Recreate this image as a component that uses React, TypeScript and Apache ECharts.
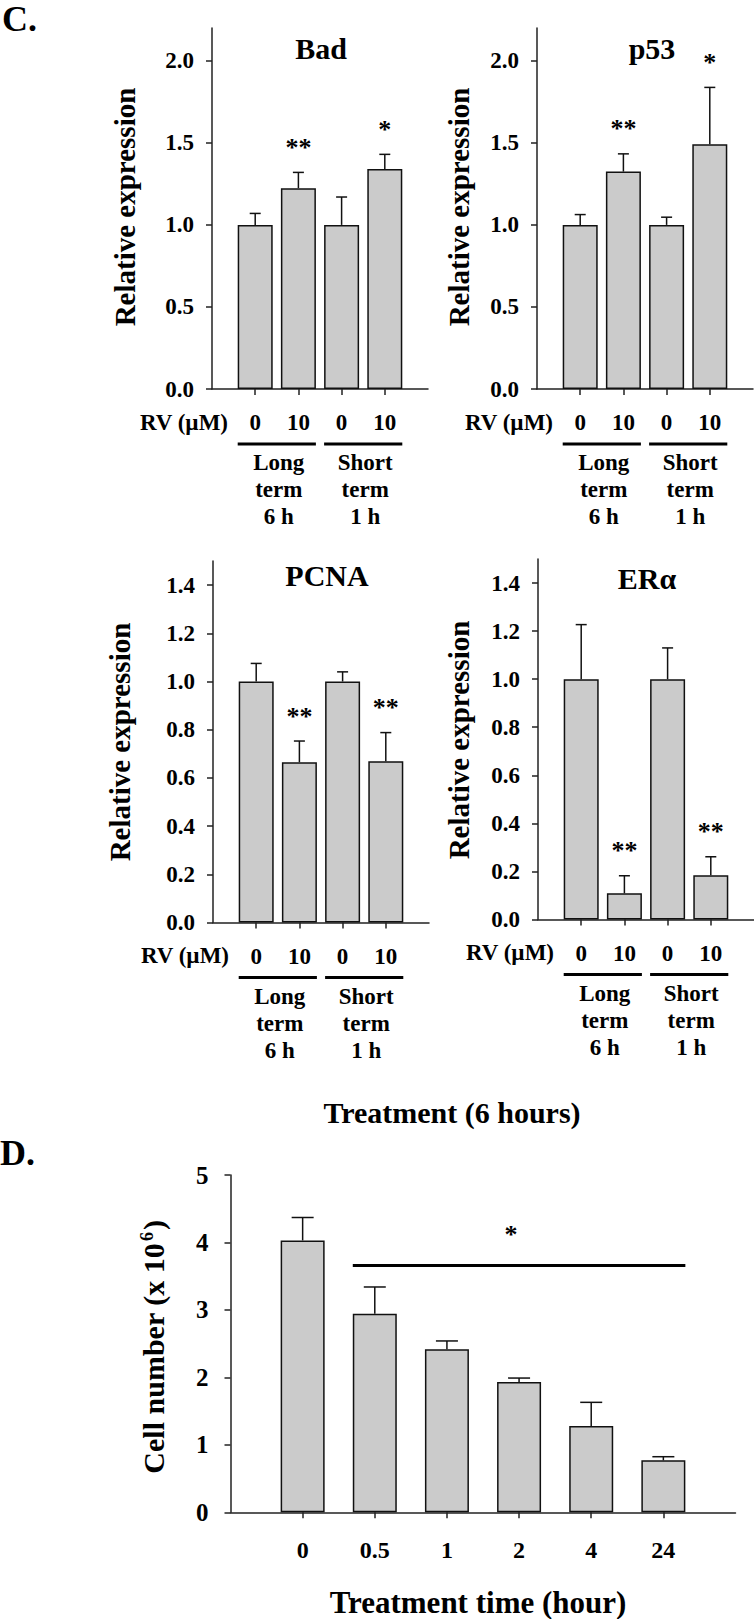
import React, { useEffect, useRef } from 'react';
import * as echarts from 'echarts';

const rvDoses = ['0', '10', '0', '10'];
const groupLabels = ['Long\nterm\n6 h', 'Short\nterm\n1 h'];
const badMean = [1.0, 1.224, 1.0, 1.34];
const badErr = [0.07, 0.096, 0.17, 0.09];
const badSig = ['', '**', '', '*'];
const p53Mean = [1.0, 1.325, 1.0, 1.492];
const p53Err = [0.063, 0.108, 0.047, 0.346];
const p53Sig = ['', '**', '', '*'];
const pcnaMean = [1.0, 0.665, 1.0, 0.669];
const pcnaErr = [0.075, 0.088, 0.04, 0.119];
const pcnaSig = ['', '**', '', '**'];
const eraMean = [1.0, 0.109, 1.0, 0.184];
const eraErr = [0.227, 0.073, 0.13, 0.077];
const eraSig = ['', '**', '', '**'];
const topTicks = [0, 0.5, 1.0, 1.5, 2.0];
const midTicks = [0, 0.2, 0.4, 0.6, 0.8, 1.0, 1.2, 1.4];
const timeLabels = ['0', '0.5', '1', '2', '4', '24'];
const cellMean = [4.03, 2.945, 2.417, 1.932, 1.28, 0.77];
const cellErr = [0.34, 0.395, 0.123, 0.058, 0.35, 0.054];
const cellTicks = [0, 1, 2, 3, 4, 5];
const cellSigLevel = 3.66;
const cellSigBars = [2, 6];

const SERIF = 'Liberation Serif';
const AXIS = { color: '#222', width: 1.5 };

function buildOption() {
  const grid: any[] = [];
  const xAxis: any[] = [];
  const yAxis: any[] = [];
  const series: any[] = [];

  const addPanel = (
    idx: number,
    g: any,
    mean: number[],
    err: number[],
    sig: string[],
    ticks: number[],
    yMax: number,
    labels: string[],
    cfg: any
  ) => {
    const pos = labels.map((_, i) => i + 1);
    grid.push(g);
    xAxis.push({
      type: 'value',
      gridIndex: idx,
      min: 0,
      max: labels.length + 1,
      axisLine: { show: true, onZero: false, lineStyle: AXIS },
      axisTick: { show: true, customValues: pos, length: 6, lineStyle: AXIS },
      axisLabel: {
        customValues: pos,
        formatter: (v: number) => labels[Math.round(v) - 1] ?? '',
        fontFamily: SERIF,
        fontWeight: 'bold',
        fontSize: cfg.xFont,
        color: '#000',
        margin: cfg.xMargin,
      },
      splitLine: { show: false },
    });
    yAxis.push({
      type: 'value',
      gridIndex: idx,
      min: 0,
      max: yMax,
      axisLine: { show: true, lineStyle: AXIS },
      axisTick: { show: true, customValues: ticks, length: 6, lineStyle: AXIS },
      axisLabel: {
        customValues: ticks,
        formatter: (v: number) => v.toFixed(cfg.decimals),
        fontFamily: SERIF,
        fontWeight: 'bold',
        fontSize: cfg.yFont,
        color: '#000',
        margin: cfg.yMargin,
      },
      splitLine: { show: false },
    });
    series.push({
      type: 'bar',
      xAxisIndex: idx,
      yAxisIndex: idx,
      barWidth: cfg.barWidth,
      silent: true,
      data: mean.map((m, i) => [i + 1, m]),
      itemStyle: { color: '#cbcbcb', borderColor: '#111', borderWidth: 1.5 },
    });
    series.push({
      type: 'custom',
      xAxisIndex: idx,
      yAxisIndex: idx,
      clip: false,
      silent: true,
      data: mean.map((m, i) => [i + 1, m, err[i]]),
      renderItem: (params: any, api: any) => {
        const x = api.value(0);
        const m = api.value(1);
        const e = api.value(2);
        const base = api.coord([x, m]);
        const top = api.coord([x, m + e]);
        const st = { stroke: '#111', lineWidth: 1.5 };
        const children: any[] = [
          { type: 'line', shape: { x1: base[0], y1: base[1], x2: top[0], y2: top[1] }, style: st },
          { type: 'line', shape: { x1: top[0] - cfg.cap, y1: top[1], x2: top[0] + cfg.cap, y2: top[1] }, style: st },
        ];
        const s = sig[params.dataIndex];
        if (s) {
          children.push({
            type: 'text',
            x: top[0],
            y: top[1] - 25,
            style: {
              text: s,
              fill: '#000',
              fontFamily: SERIF,
              fontWeight: 'bold',
              fontSize: 26,
              align: 'center',
              verticalAlign: 'middle',
            },
          });
        }
        return { type: 'group', children };
      },
    });
    if (cfg.groups) {
      series.push({
        type: 'custom',
        xAxisIndex: idx,
        yAxisIndex: idx,
        clip: false,
        silent: true,
        data: [[1.5, 0], [3.5, 0]],
        renderItem: (params: any, api: any) => {
          const p = api.coord([api.value(0), 0]);
          const unit = api.size([1, 0])[0];
          const half = unit / 2 + cfg.barWidth / 2;
          const children: any[] = [
            {
              type: 'line',
              shape: { x1: p[0] - half, y1: p[1] + 55, x2: p[0] + half, y2: p[1] + 55 },
              style: { stroke: '#000', lineWidth: 3 },
            },
            {
              type: 'text',
              x: p[0] + 2,
              y: p[1] + 60,
              style: {
                text: groupLabels[params.dataIndex],
                fill: '#000',
                fontFamily: SERIF,
                fontWeight: 'bold',
                fontSize: 23,
                lineHeight: 27,
                align: 'center',
                verticalAlign: 'top',
              },
            },
          ];
          if (params.dataIndex === 0) {
            const o = api.coord([0, 0]);
            children.push({
              type: 'text',
              x: o[0] + 16,
              y: o[1] + 33,
              style: {
                text: 'RV (µM)',
                fill: '#000',
                fontFamily: SERIF,
                fontWeight: 'bold',
                fontSize: 23,
                align: 'right',
                verticalAlign: 'middle',
              },
            });
          }
          return { type: 'group', children };
        },
      });
    }
  };

  const topCfg = { xFont: 23, xMargin: 22, yFont: 23, yMargin: 18, decimals: 1, barWidth: 35, cap: 5.5, groups: true };
  addPanel(0, { left: 212, top: 28, width: 216, height: 361 }, badMean, badErr, badSig, topTicks, 2.2, rvDoses, topCfg);
  addPanel(1, { left: 537, top: 28, width: 216, height: 361 }, p53Mean, p53Err, p53Sig, topTicks, 2.2, rvDoses, topCfg);
  addPanel(2, { left: 213, top: 561, width: 216, height: 361.5 }, pcnaMean, pcnaErr, pcnaSig, midTicks, 1.5, rvDoses, topCfg);
  addPanel(3, { left: 538, top: 559, width: 216, height: 360.5 }, eraMean, eraErr, eraSig, midTicks, 1.5, rvDoses, topCfg);
  const dCfg = { xFont: 24, xMargin: 26, yFont: 25, yMargin: 22, decimals: 0, barWidth: 44, cap: 11, groups: false };
  addPanel(4, { left: 230.5, top: 1175, width: 505, height: 337.3 }, cellMean, cellErr, ['', '', '', '', '', ''], cellTicks, 5, timeLabels, dCfg);

  series.push({
    type: 'custom',
    xAxisIndex: 4,
    yAxisIndex: 4,
    clip: false,
    silent: true,
    data: [[cellSigBars[0], cellSigBars[1], cellSigLevel]],
    renderItem: (params: any, api: any) => {
      const a = api.coord([api.value(0), api.value(2)]);
      const b = api.coord([api.value(1), api.value(2)]);
      const x1 = a[0] - dCfg.barWidth / 2;
      const x2 = b[0] + dCfg.barWidth / 2;
      return {
        type: 'group',
        children: [
          { type: 'line', shape: { x1, y1: a[1], x2, y2: a[1] }, style: { stroke: '#000', lineWidth: 3 } },
          {
            type: 'text',
            x: (x1 + x2) / 2 - 8,
            y: a[1] - 31,
            style: {
              text: '*',
              fill: '#000',
              fontFamily: SERIF,
              fontWeight: 'bold',
              fontSize: 26,
              align: 'center',
              verticalAlign: 'middle',
            },
          },
        ],
      };
    },
  });

  const txt = (text: string, x: number, y: number, size: number, extra: any = {}) => ({
    type: 'text',
    x,
    y,
    silent: true,
    ...extra,
    style: {
      text,
      fill: '#000',
      fontFamily: SERIF,
      fontWeight: 'bold',
      fontSize: size,
      align: 'center',
      verticalAlign: 'middle',
      ...(extra.style || {}),
    },
  });

  const graphic = [
    txt('C.', 2, 19, 36, { style: { align: 'left' } }),
    txt('Bad', 321, 48, 30),
    txt('p53', 652, 48, 30),
    txt('PCNA', 327, 575, 30),
    txt('ERα', 647, 578, 30),
    txt('Relative expression', 125, 207, 29, { rotation: Math.PI / 2 }),
    txt('Relative expression', 459, 207, 29, { rotation: Math.PI / 2 }),
    txt('Relative expression', 120, 742, 29, { rotation: Math.PI / 2 }),
    txt('Relative expression', 459, 740, 29, { rotation: Math.PI / 2 }),
    txt('Treatment (6 hours)', 452, 1112, 30),
    txt('D.', 0, 1153, 36, { style: { align: 'left' } }),
    txt('Treatment time (hour)', 478, 1602, 31),
    {
      type: 'text',
      x: 153,
      y: 1347,
      rotation: Math.PI / 2,
      silent: true,
      style: {
        text: '{a|Cell number (x 10}{b|6}{a|)}',
        align: 'center',
        verticalAlign: 'middle',
        fill: '#000',
        rich: {
          a: { fontFamily: SERIF, fontWeight: 'bold', fontSize: 30, fill: '#000' },
          b: { fontFamily: SERIF, fontWeight: 'bold', fontSize: 18, fill: '#000', verticalAlign: 'top', padding: [0, 2, 0, 2] },
        },
      },
    },
  ];

  return { animation: false, backgroundColor: '#fff', grid, xAxis, yAxis, series, graphic };
}

export default function App() {
  const ref = useRef<HTMLDivElement>(null);
  useEffect(() => {
    if (!ref.current) return;
    const chart = echarts.init(ref.current, undefined, { renderer: 'svg' });
    chart.setOption(buildOption() as any);
    return () => chart.dispose();
  }, []);
  return (
    <div
      ref={ref}
      style={{ position: 'absolute', left: 0, top: 0, width: 754, height: 1619, background: '#fff' }}
    />
  );
}
